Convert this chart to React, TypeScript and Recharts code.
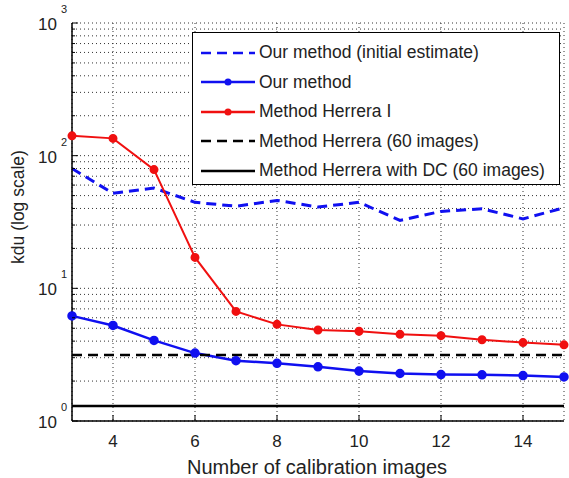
import { LineChart, Line, XAxis, YAxis, CartesianGrid } from 'recharts';

const xs = [3, 4, 5, 6, 7, 8, 9, 10, 11, 12, 13, 14, 15];
const ourInitial = [80, 52, 57, 44.5, 41.6, 46, 41, 44.5, 32.5, 38, 39.8, 33.4, 40.5];
const ourMethod = [6.2, 5.25, 4.05, 3.25, 2.85, 2.72, 2.56, 2.38, 2.28, 2.24, 2.23, 2.2, 2.15];
const herreraI = [141, 135, 78.5, 17.1, 6.7, 5.35, 4.85, 4.75, 4.5, 4.4, 4.1, 3.9, 3.75];
const herrera60 = 3.15;
const herreraDC = 1.3;
const xTicks = [4, 6, 8, 10, 12, 14];
const yTicks = [1, 2, 3, 4, 5, 6, 7, 8, 9, 10, 20, 30, 40, 50, 60, 70, 80, 90, 100, 200, 300, 400, 500, 600, 700, 800, 900, 1000];

const data = xs.map((x, i) => ({
  x,
  ourInitial: ourInitial[i],
  ourMethod: ourMethod[i],
  herreraI: herreraI[i],
  herrera60,
  herreraDC,
}));

const legendItems = [
  { label: 'Our method (initial estimate)', color: '#1010f0', dash: '10 6', dot: false },
  { label: 'Our method', color: '#1010f0', dash: undefined, dot: true },
  { label: 'Method Herrera I', color: '#f01010', dash: undefined, dot: true },
  { label: 'Method Herrera (60 images)', color: '#000', dash: '10 6', dot: false },
  { label: 'Method Herrera with DC (60 images)', color: '#000', dash: undefined, dot: false },
];

const font = 'Liberation Sans, Arial, sans-serif';

function YTick(props: any) {
  const { x, y, payload } = props;
  const v = payload.value;
  const exp = Math.round(Math.log10(v));
  const isMajor = Math.abs(Math.pow(10, exp) - v) < 1e-6;
  return (
    <g>
      <line x1={x} x2={x + (isMajor ? 6 : 3)} y1={y} y2={y} stroke="#000" />
      {isMajor && (
        <>
          <text x={x - 15} y={y + 7} textAnchor="end" fontSize={17} fontFamily={font} fill="#222">10</text>
          <text x={x - 11} y={y - 10} textAnchor="start" fontSize={11} fontFamily={font} fill="#222">{exp}</text>
        </>
      )}
    </g>
  );
}

function XTick(props: any) {
  const { x, y, payload } = props;
  return (
    <g>
      <line x1={x} x2={x} y1={y} y2={y - 6} stroke="#000" />
      <text x={x} y={y + 26} textAnchor="middle" fontSize={17} fontFamily={font} fill="#222">{payload.value}</text>
    </g>
  );
}

function LegendBox() {
  return (
    <div style={{ position: 'absolute', left: 192, top: 32, width: 368, height: 153, border: '1.5px solid #000', background: '#fff', boxSizing: 'border-box', paddingTop: 5 }}>
      {legendItems.map((it) => (
        <div key={it.label} style={{ display: 'flex', alignItems: 'center', height: 29.5 }}>
          <svg width={66} height={20} style={{ flex: 'none' }}>
            <line x1={8} x2={62} y1={10} y2={10} stroke={it.color} strokeWidth={2.5} strokeDasharray={it.dash} />
            {it.dot && <circle cx={35} cy={10} r={3.5} fill={it.color} />}
          </svg>
          <span style={{ fontFamily: font, fontSize: 17.5, color: '#222', whiteSpace: 'nowrap' }}>{it.label}</span>
        </div>
      ))}
    </div>
  );
}

export default function App() {
  return (
    <div style={{ position: 'absolute', left: 0, top: 0, width: 569, height: 478, background: '#fff' }}>
      <LineChart width={569} height={478} data={data} margin={{ top: 23, right: 5, left: 0, bottom: 0 }}>
        <CartesianGrid stroke="#333" strokeDasharray="1 3" horizontal vertical />
        <XAxis
          dataKey="x"
          type="number"
          domain={[3, 15]}
          ticks={xTicks}
          height={57}
          tickLine={false}
          tickSize={0}
          tickMargin={0}
          stroke="#000"
          strokeWidth={1.5}
          tick={<XTick />}
          label={() => (
            <text x={317} y={474} textAnchor="middle" fontSize={20} fontFamily={font} fill="#222">Number of calibration images</text>
          )}
        />
        <YAxis
          scale="log"
          domain={[1, 1000]}
          allowDataOverflow
          ticks={yTicks}
          interval={0}
          width={72}
          tickLine={false}
          tickSize={0}
          tickMargin={0}
          stroke="#000"
          strokeWidth={1.5}
          tick={<YTick />}
          label={() => (
            <text x={18} y={207} transform="rotate(-90, 18, 207)" textAnchor="middle" dominantBaseline="central" fontSize={17.5} fontFamily={font} fill="#222">kdu (log scale)</text>
          )}
        />
        <Line dataKey="ourInitial" stroke="#1010f0" strokeWidth={3} strokeDasharray="10 6" dot={false} isAnimationActive={false} />
        <Line dataKey="ourMethod" stroke="#1010f0" strokeWidth={2.5} dot={{ r: 3.5, fill: '#1010f0', stroke: '#1010f0' }} isAnimationActive={false} />
        <Line dataKey="herreraI" stroke="#f01010" strokeWidth={2} dot={{ r: 3.5, fill: '#f01010', stroke: '#f01010' }} isAnimationActive={false} />
        <Line dataKey="herrera60" stroke="#000" strokeWidth={2.5} strokeDasharray="10 6" dot={false} isAnimationActive={false} />
        <Line dataKey="herreraDC" stroke="#000" strokeWidth={2.5} dot={false} isAnimationActive={false} />
      </LineChart>
      <LegendBox />
    </div>
  );
}
